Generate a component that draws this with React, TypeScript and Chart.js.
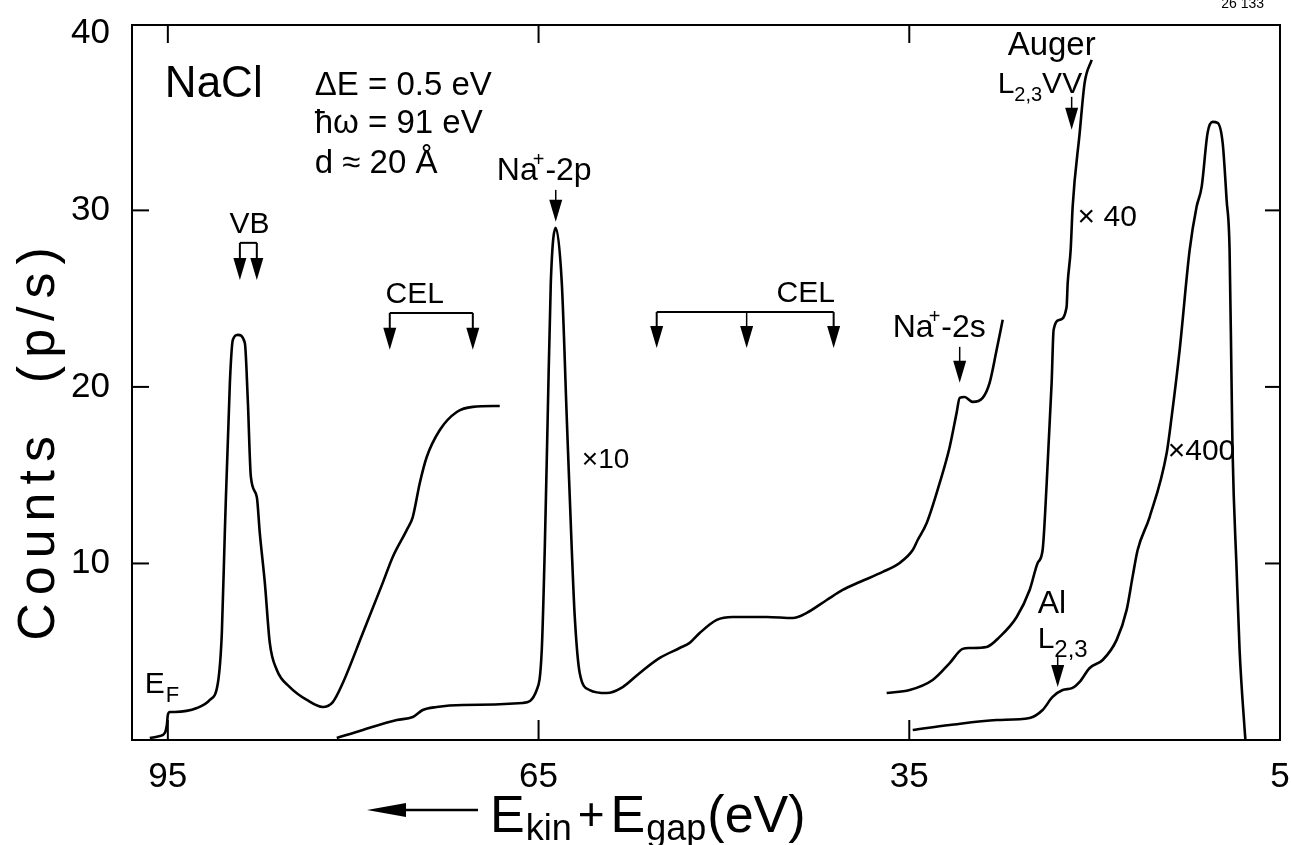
import React, { useEffect, useRef } from "react";
import { Chart, registerables } from "chart.js";

Chart.register(...registerables);

// ---- axes ----
const xTickValues = [95, 65, 35, 5];
const yTickValues = [10, 20, 30, 40];
const X_MIN = 5;
const X_MAX = 97.9;
const Y_MIN = 0;
const Y_MAX = 40.5;

// ---- spectrum, unscaled (E_F, VB, CEL) ----
const vbEnergy = [96.46, 95.65, 95.24, 95.08, 95.0, 94.84, 94.43, 92.65, 91.6, 90.95, 90.63, 90.39, 89.98, 89.74, 89.34, 88.77, 88.53, 88.28, 87.8, 87.56, 87.15, 86.75, 86.18, 85.13, 83.75, 82.46, 81.65, 80.84, 79.22, 77.61, 76.8, 75.66, 75.18, 74.61, 74.05, 72.99, 71.62, 70.32, 68.14];
const vbCounts = [0.11, 0.23, 0.4, 0.85, 1.42, 1.59, 1.59, 1.81, 2.27, 3.23, 6.06, 11.73, 20.23, 22.66, 22.95, 22.49, 19.26, 14.9, 13.77, 11.73, 8.9, 5.5, 3.97, 3.0, 2.27, 1.87, 2.15, 3.23, 6.06, 8.9, 10.37, 11.9, 12.63, 14.56, 16.03, 17.56, 18.58, 18.87, 18.92];

// ---- spectrum x10 (Na+-2p, CEL, Na+-2s) ----
const x10Energy = [81.33, 79.22, 76.47, 75.18, 74.37, 73.24, 71.13, 66.28, 65.15, 64.74, 64.5, 64.26, 64.01, 63.61, 63.12, 62.72, 62.31, 62.07, 61.67, 60.86, 59.48, 58.19, 56.81, 55.19, 53.58, 52.77, 51.96, 50.58, 49.29, 46.54, 44.43, 43.3, 41.68, 40.39, 39.01, 37.15, 35.78, 34.72, 34.32, 33.59, 32.54, 31.73, 31.17, 30.92, 30.52, 29.87, 29.06, 28.5, 27.93, 27.44];
const x10Counts = [0.11, 0.57, 1.13, 1.3, 1.7, 1.87, 1.98, 2.1, 2.83, 5.1, 10.76, 18.3, 25.89, 29.01, 25.89, 18.3, 10.76, 6.97, 3.8, 2.83, 2.66, 3.0, 3.8, 4.65, 5.21, 5.5, 6.06, 6.8, 6.97, 6.97, 6.91, 7.2, 7.93, 8.5, 8.95, 9.52, 10.03, 10.76, 11.33, 12.29, 14.56, 16.6, 18.53, 19.38, 19.43, 19.15, 19.38, 20.23, 22.1, 23.8];

// ---- spectrum x40 (Auger L2,3VV) ----
const x40Energy = [36.83, 34.97, 33.11, 31.73, 30.68, 30.11, 28.74, 27.69, 26.31, 25.26, 24.61, 24.21, 23.88, 23.48, 23.32, 22.83, 22.27, 22.18, 21.94, 21.78, 21.21, 20.81, 20.24];
const x40Counts = [2.66, 2.83, 3.4, 4.36, 5.16, 5.21, 5.27, 5.84, 6.97, 8.5, 10.03, 10.76, 14.56, 20.23, 23.23, 23.8, 24.53, 25.89, 27.76, 30.2, 34.39, 37.22, 38.53];

// ---- spectrum x400 (Al L2,3, secondary peak) ----
const x400Energy = [34.72, 31.73, 27.93, 25.26, 24.21, 23.4, 22.59, 21.78, 21.21, 20.4, 19.35, 18.22, 17.41, 16.93, 16.52, 15.55, 14.17, 13.77, 13.12, 12.31, 11.75, 11.34, 10.86, 10.45, 10.05, 9.64, 9.32, 9.08, 8.92, 8.84, 8.51, 8.27, 7.86, 7.8];
const x400Counts = [0.57, 0.85, 1.13, 1.25, 1.7, 2.44, 2.83, 2.95, 3.29, 4.08, 4.53, 5.67, 7.37, 9.24, 10.76, 12.63, 16.26, 18.3, 22.1, 27.76, 30.2, 31.33, 34.39, 35.01, 34.96, 33.82, 30.59, 27.76, 20.23, 16.43, 9.63, 5.1, 0.57, 0];

const FONT = '"Liberation Sans", Arial, sans-serif';

type Part = [string, number, number?, number?]; // text, size, dy, dx

// annotations anchored in data units (E, counts)
const textNotes: { parts: Part[]; e: number; v: number; align?: "left" | "center"; base?: CanvasTextBaseline }[] = [
  { parts: [["NaCl", 44]], e: 95.24, v: 36.43 },
  { parts: [["ΔE = 0.5 eV", 33]], e: 83.11, v: 36.54 },
  { parts: [["ħω = 91 eV", 33]], e: 83.11, v: 34.39 },
  { parts: [["d ≈ 20 Å", 33]], e: 83.11, v: 32.12 },
  { parts: [["VB", 30]], e: 88.4, v: 28.73, align: "center" },
  { parts: [["CEL", 30]], e: 75.02, v: 24.76, align: "center" },
  { parts: [["Na", 32], ["+", 20, -14, -5], ["-2p", 32, 0, 1]], e: 68.38, v: 31.73 },
  { parts: [["CEL", 30]], e: 43.38, v: 24.82, align: "center" },
  { parts: [["×10", 28]], e: 61.5, v: 15.86, base: "middle" },
  { parts: [["Na", 32], ["+", 20, -14, -5], ["-2s", 32, 0, 1]], e: 36.34, v: 22.83 },
  { parts: [["Auger", 33]], e: 27.04, v: 38.81 },
  { parts: [["L", 30], ["2,3", 20, 8], ["VV", 30]], e: 27.85, v: 36.66 },
  { parts: [["× 40", 30]], e: 21.38, v: 29.58, base: "middle" },
  { parts: [["×400", 30]], e: 14.09, v: 16.32, base: "middle" },
  { parts: [["Al", 32]], e: 24.61, v: 7.2 },
  { parts: [["L", 30], ["2,3", 24, 9]], e: 24.61, v: 5.21 },
  { parts: [["E", 30], ["F", 22, 9, 1]], e: 96.86, v: 2.66 },
];

const arrowNotes: { e: number; from: number; tip: number; thin?: boolean }[] = [
  { e: 89.17, from: 28.16, tip: 26.06 },
  { e: 87.8, from: 28.16, tip: 26.06 },
  { e: 77.04, from: 24.19, tip: 22.1 },
  { e: 70.32, from: 24.19, tip: 22.1 },
  { e: 63.61, from: 31.16, tip: 29.35, thin: true },
  { e: 55.44, from: 24.24, tip: 22.21 },
  { e: 48.16, from: 24.24, tip: 22.21, thin: true },
  { e: 41.12, from: 24.24, tip: 22.21 },
  { e: 30.92, from: 22.27, tip: 20.23, thin: true },
  { e: 21.86, from: 36.43, tip: 34.56, thin: true },
  { e: 22.99, from: 4.7, tip: 3.0, thin: true },
];

const bracketNotes: { e1: number; e2: number; v: number }[] = [
  { e1: 89.17, e2: 87.8, v: 28.16 },
  { e1: 77.04, e2: 70.32, v: 24.19 },
  { e1: 55.44, e2: 41.12, v: 24.24 },
];

function drawParts(ctx: CanvasRenderingContext2D, parts: Part[], x: number, y: number, align: string, base: CanvasTextBaseline) {
  let total = 0;
  for (const p of parts) {
    ctx.font = `${p[1]}px ${FONT}`;
    total += ctx.measureText(p[0]).width + (p[3] || 0);
  }
  let cx = align === "center" ? x - total / 2 : x;
  ctx.textAlign = "left";
  ctx.textBaseline = base;
  for (const p of parts) {
    ctx.font = `${p[1]}px ${FONT}`;
    cx += p[3] || 0;
    ctx.fillText(p[0], cx, y + (p[2] || 0));
    cx += ctx.measureText(p[0]).width;
  }
}

const decor = {
  id: "decor",
  afterDraw(chart: any) {
    const { ctx, chartArea: a, scales } = chart;
    const xs = scales.x;
    const ys = scales.y;
    const px = (e: number) => xs.getPixelForValue(e);
    const py = (v: number) => ys.getPixelForValue(v);
    const line = (x1: number, y1: number, x2: number, y2: number) => {
      ctx.beginPath();
      ctx.moveTo(x1, y1);
      ctx.lineTo(x2, y2);
      ctx.stroke();
    };
    ctx.save();
    ctx.strokeStyle = "#000";
    ctx.fillStyle = "#000";
    ctx.lineCap = "butt";

    // frame
    ctx.lineWidth = 2;
    ctx.strokeRect(a.left, a.top, a.right - a.left, a.bottom - a.top);

    // inward ticks
    for (const t of xTickValues) {
      if (t <= X_MIN) continue;
      const X = px(t);
      line(X, a.bottom, X, a.bottom - 20);
      line(X, a.top, X, a.top + 18);
    }
    for (const t of yTickValues) {
      if (t >= 40) continue;
      const Y = py(t);
      line(a.left, Y, a.left + 17, Y);
      line(a.right, Y, a.right - 15, Y);
    }

    // brackets
    ctx.lineWidth = 2;
    for (const b of bracketNotes) {
      line(px(b.e1), py(b.v), px(b.e2), py(b.v));
    }
    // arrows
    for (const ar of arrowNotes) {
      const X = px(ar.e);
      const y0 = py(ar.from);
      const yt = py(ar.tip);
      const headLen = 22;
      ctx.lineWidth = ar.thin ? 1.5 : 2;
      line(X, y0, X, yt - headLen + 2);
      ctx.beginPath();
      ctx.moveTo(X - 6.5, yt - headLen);
      ctx.lineTo(X + 6.5, yt - headLen);
      ctx.lineTo(X, yt);
      ctx.closePath();
      ctx.fill();
    }

    // texts
    for (const t of textNotes) {
      drawParts(ctx, t.parts, px(t.e), py(t.v), t.align || "left", t.base || "alphabetic");
    }

    // x axis title with arrow
    const ay = a.bottom + 70;
    ctx.lineWidth = 2.5;
    line(a.left + 262, ay, a.left + 346, ay);
    ctx.beginPath();
    ctx.moveTo(a.left + 235, ay);
    ctx.lineTo(a.left + 274, ay - 7);
    ctx.lineTo(a.left + 274, ay + 7);
    ctx.closePath();
    ctx.fill();
    drawParts(
      ctx,
      [["E", 52], ["kin", 36, 8, 1], ["+", 46, -2, 6], ["E", 52, 0, 6], ["gap", 36, 8, 1], ["(eV)", 52, 0, 1]],
      a.left + 358,
      a.bottom + 92,
      "left",
      "alphabetic"
    );

    // y axis title
    ctx.save();
    ctx.translate(a.left - 92, a.top + 415);
    ctx.rotate(-Math.PI / 2);
    ctx.font = `52px ${FONT}`;
    (ctx as any).letterSpacing = "8px";
    ctx.textAlign = "center";
    ctx.textBaseline = "middle";
    ctx.fillText("Counts  (p/s)", 0, 0);
    ctx.restore();

    // figure number, cut at top edge
    ctx.font = `14px ${FONT}`;
    ctx.textAlign = "right";
    ctx.textBaseline = "alphabetic";
    ctx.fillText("26 133", a.right - 16, 8);

    ctx.restore();
  },
};

const toPoints = (e: number[], v: number[]) => e.map((x, i) => ({ x, y: v[i] }));

export default function App() {
  const ref = useRef<HTMLCanvasElement | null>(null);

  useEffect(() => {
    if (!ref.current) return;
    const series = [
      toPoints(vbEnergy, vbCounts),
      toPoints(x10Energy, x10Counts),
      toPoints(x40Energy, x40Counts),
      toPoints(x400Energy, x400Counts),
    ];
    const tickFont = { size: 35, family: FONT };
    const chart = new Chart(ref.current, {
      type: "line",
      data: {
        datasets: series.map((d) => ({
          data: d,
          borderColor: "#000",
          borderWidth: 2.6,
          pointRadius: 0,
          fill: false,
          cubicInterpolationMode: "monotone" as const,
        })),
      },
      options: {
        animation: false,
        responsive: true,
        maintainAspectRatio: false,
        layout: { padding: { top: 25, right: 11, left: 0, bottom: 0 } },
        plugins: {
          legend: { display: false },
          tooltip: { enabled: false },
          title: { display: false },
        },
        scales: {
          x: {
            type: "linear",
            reverse: true,
            min: X_MIN,
            max: X_MAX,
            grid: { display: false },
            border: { display: false },
            afterBuildTicks: (s: any) => {
              s.ticks = xTickValues.map((value) => ({ value }));
            },
            afterFit: (s: any) => {
              s.height = 105;
              s.paddingLeft = 0;
              s.paddingRight = 0;
            },
            ticks: { font: tickFont, color: "#000", padding: 8, maxRotation: 0, autoSkip: false },
          },
          y: {
            type: "linear",
            min: Y_MIN,
            max: Y_MAX,
            grid: { display: false },
            border: { display: false },
            afterBuildTicks: (s: any) => {
              s.ticks = yTickValues.map((value) => ({ value }));
            },
            afterFit: (s: any) => {
              s.width = 132;
              s.paddingTop = 0;
              s.paddingBottom = 0;
            },
            ticks: { font: tickFont, color: "#000", padding: 14, autoSkip: false },
          },
        },
      },
      plugins: [decor],
    });
    return () => chart.destroy();
  }, []);

  return (
    <div style={{ position: "absolute", left: 0, top: 0, width: 1291, height: 845, background: "#fff" }}>
      <canvas ref={ref} />
    </div>
  );
}
